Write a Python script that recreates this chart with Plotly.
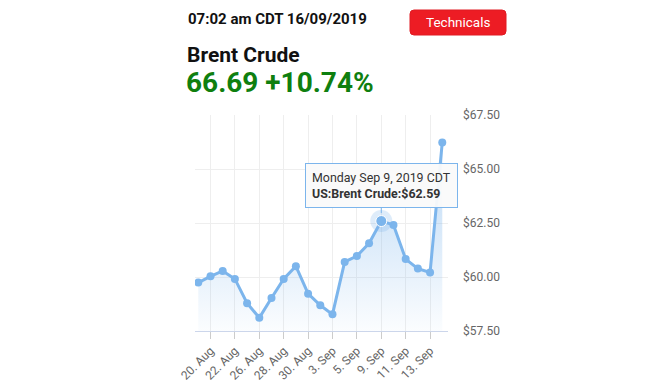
import plotly.graph_objects as go

dates = ["19 Aug", "20 Aug", "21 Aug", "22 Aug", "23 Aug", "26 Aug", "27 Aug", "28 Aug",
         "29 Aug", "30 Aug", "2 Sep", "3 Sep", "4 Sep", "5 Sep", "6 Sep", "9 Sep",
         "10 Sep", "11 Sep", "12 Sep", "13 Sep", "16 Sep"]
prices = [59.74, 60.03, 60.28, 59.91, 58.79, 58.11, 59.03, 59.91, 60.50, 59.23, 58.69,
          58.27, 60.70, 60.97, 61.56, 62.59, 62.41, 60.83, 60.39, 60.21, 66.23]
tick_dates = ["20 Aug", "22 Aug", "26 Aug", "28 Aug", "30 Aug", "3 Sep", "5 Sep",
              "9 Sep", "11 Sep", "13 Sep"]
tick_labels = ["20. Aug", "22. Aug", "26. Aug", "28. Aug", "30. Aug", "3. Sep", "5. Sep",
               "9. Sep", "11. Sep", "13. Sep"]
y_ticks = [57.5, 60.0, 62.5, 65.0, 67.5]
y_tick_labels = ["$57.50", "$60.00", "$62.50", "$65.00", "$67.50"]
hover_date = "9 Sep"
hover_title = "Monday Sep 9, 2019 CDT"
series_name = "US:Brent Crude"

x_idx = list(range(len(dates)))
tick_idx = [dates.index(d) for d in tick_dates]
h_idx = dates.index(hover_date)
h_val = prices[h_idx]

LINE = "#7cb5ec"
OFF = 8  # page body margin
W, H = 670 - OFF, 380 - OFF
ML, MR, MT, MB = 195 - OFF, 222, 115 - OFF, 49
pw, ph = W - ML - MR, H - MT - MB


def px_x(v):  # v: pixel in the window
    return (v - OFF - ML) / pw


def px_y(v):  # v: pixel from the window top
    return (H - (v - OFF) - MB) / ph


fig = go.Figure()
fig.add_trace(go.Scatter(
    x=x_idx, y=prices, mode="lines+markers",
    line=dict(color=LINE, width=3),
    marker=dict(color=LINE, size=8),
    fill="tozeroy",
    fillgradient=dict(type="vertical", start=57.5, stop=67.5,
                      colorscale=[[0, "rgba(124,181,236,0.03)"], [1, "rgba(124,181,236,0.6)"]]),
    hoverinfo="skip", showlegend=False,
))
fig.add_trace(go.Scatter(
    x=[h_idx], y=[h_val], mode="markers",
    marker=dict(color="rgba(124,181,236,0.25)", size=22),
    hoverinfo="skip", showlegend=False,
))
fig.add_trace(go.Scatter(
    x=[h_idx], y=[h_val], mode="markers",
    marker=dict(color=LINE, size=11, line=dict(color="white", width=1)),
    hoverinfo="skip", showlegend=False,
))

fig.add_annotation(
    x=h_idx, y=h_val, xref="x", yref="y",
    text=f"{hover_title}<br><b>{series_name}:${h_val:.2f}</b>",
    showarrow=True, arrowhead=0, arrowwidth=1, arrowcolor=LINE,
    ax=0, ay=-36, standoff=8,
    align="left", font=dict(family="Roboto", size=12.4, color="#333333"),
    bgcolor="rgba(250,250,250,0.95)", bordercolor=LINE, borderwidth=1, borderpad=6,
)

# header texts
fig.add_annotation(x=px_x(186), y=px_y(19), xref="paper", yref="paper",
                   text="<b>07:02 am CDT 16/09/2019</b>",
                   showarrow=False, xanchor="left", yanchor="middle",
                   font=dict(family="Roboto", size=15, color="#111111"))
fig.add_annotation(x=px_x(185), y=px_y(55), xref="paper", yref="paper", text="<b>Brent Crude</b>",
                   showarrow=False, xanchor="left", yanchor="middle",
                   font=dict(family="Roboto", size=21, color="#111111"))
fig.add_annotation(x=px_x(184), y=px_y(82), xref="paper", yref="paper", text="<b>66.69 +10.74%</b>",
                   showarrow=False, xanchor="left", yanchor="middle",
                   font=dict(family="Roboto", size=28, color="#0f7f0f"))
fig.add_annotation(x=px_x(458), y=px_y(22), xref="paper", yref="paper", text="Technicals",
                   showarrow=False, xanchor="center", yanchor="middle",
                   font=dict(family="Roboto", size=13.5, color="white"))

# red rounded button
bx0, bx1, by0, by1, r = 410, 506, 10, 35, 4
rx, ry = r / pw, r / ph
X0, X1 = px_x(bx0), px_x(bx1)
Yt, Yb = px_y(by0), px_y(by1)
path = (f"M {X0 + rx} {Yt} L {X1 - rx} {Yt} Q {X1} {Yt} {X1} {Yt - ry} "
        f"L {X1} {Yb + ry} Q {X1} {Yb} {X1 - rx} {Yb} L {X0 + rx} {Yb} "
        f"Q {X0} {Yb} {X0} {Yb + ry} L {X0} {Yt - ry} Q {X0} {Yt} {X0 + rx} {Yt} Z")
fig.add_shape(type="path", xref="paper", yref="paper", path=path,
              fillcolor="#ed1c24", line=dict(color="#e01a22", width=1), layer="below")

fig.update_layout(
    width=W, height=H,
    margin=dict(l=ML, r=MR, t=MT, b=MB, autoexpand=False),
    paper_bgcolor="white", plot_bgcolor="white",
    showlegend=False,
    font=dict(family="Roboto", color="#666666"),
)

fig.update_xaxes(
    range=[-0.27, 20.47], tickmode="array", tickvals=tick_idx, ticktext=tick_labels,
    tickangle=-45, tickfont=dict(size=12, color="#666666"),
    showgrid=True, gridcolor="#eeeeee", gridwidth=1,
    showline=True, linecolor="#ccd6eb", linewidth=1,
    ticks="outside", ticklen=7, tickcolor="#cccccc",
    zeroline=False, automargin=False,
)
fig.update_yaxes(
    range=[57.5, 67.5], side="right", tickmode="array", tickvals=y_ticks, ticktext=y_tick_labels,
    tickfont=dict(size=12, color="#666666"), ticklabelstandoff=14,
    showgrid=True, gridcolor="#eeeeee", gridwidth=1,
    showline=False, zeroline=False, ticks="", automargin=False,
)

fig.write_html("out.html")
